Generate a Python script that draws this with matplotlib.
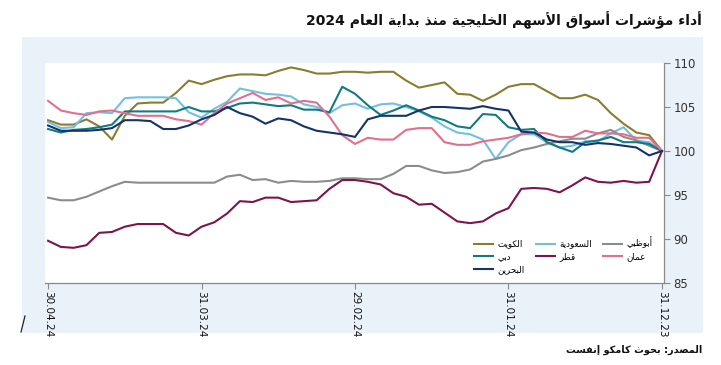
import re
import matplotlib
matplotlib.use("Agg")
import matplotlib.pyplot as plt
from matplotlib.patches import Rectangle
from matplotlib.lines import Line2D

plt.rcParams['font.family'] = ['DejaVu Sans']

# --- simple Arabic shaping (presentation forms) + visual RTL order ---
FORMS = {
    '\u0621': (0xFE80, 1), '\u0622': (0xFE81, 2), '\u0623': (0xFE83, 2),
    '\u0624': (0xFE85, 2), '\u0625': (0xFE87, 2), '\u0626': (0xFE89, 4),
    '\u0627': (0xFE8D, 2), '\u0628': (0xFE8F, 4), '\u0629': (0xFE93, 2),
    '\u062A': (0xFE95, 4), '\u062B': (0xFE99, 4), '\u062C': (0xFE9D, 4),
    '\u062D': (0xFEA1, 4), '\u062E': (0xFEA5, 4), '\u062F': (0xFEA9, 2),
    '\u0630': (0xFEAB, 2), '\u0631': (0xFEAD, 2), '\u0632': (0xFEAF, 2),
    '\u0633': (0xFEB1, 4), '\u0634': (0xFEB5, 4), '\u0635': (0xFEB9, 4),
    '\u0636': (0xFEBD, 4), '\u0637': (0xFEC1, 4), '\u0638': (0xFEC5, 4),
    '\u0639': (0xFEC9, 4), '\u063A': (0xFECD, 4), '\u0641': (0xFED1, 4),
    '\u0642': (0xFED5, 4), '\u0643': (0xFED9, 4), '\u0644': (0xFEDD, 4),
    '\u0645': (0xFEE1, 4), '\u0646': (0xFEE5, 4), '\u0647': (0xFEE9, 4),
    '\u0648': (0xFEED, 2), '\u0649': (0xFEEF, 2), '\u064A': (0xFEF1, 4),
}
LAM_ALEF = {'\u0627': 0xFEFB, '\u0623': 0xFEF7, '\u0625': 0xFEF9, '\u0622': 0xFEF5}


def ar(text):
    out = []
    k, n = 0, len(text)
    while k < n:
        c = text[k]
        if c not in FORMS:
            out.append(c)
            k += 1
            continue
        prev = text[k - 1] if k > 0 else ''
        prev_join = prev in FORMS and FORMS[prev][1] == 4
        if c == '\u0644' and k + 1 < n and text[k + 1] in LAM_ALEF:
            out.append(chr(LAM_ALEF[text[k + 1]] + (1 if prev_join else 0)))
            k += 2
            continue
        nxt = text[k + 1] if k + 1 < n else ''
        next_join = nxt in FORMS and FORMS[nxt][1] > 1
        base, nf = FORMS[c]
        if nf == 4:
            f = 3 if (prev_join and next_join) else 1 if prev_join else 2 if next_join else 0
        elif nf == 2:
            f = 1 if prev_join else 0
        else:
            f = 0
        out.append(chr(base + f))
        k += 1
    s = ''.join(out)[::-1]
    return re.sub(r'[0-9.]+', lambda m: m.group(0)[::-1], s)


# --- data: index 0 = 31.12.23 ... 48 = 30.04.24 ---
obs = list(range(49))
tick_pos = [0, 12, 24, 36, 48]
tick_labels = ['31.12.23', '31.01.24', '29.02.24', '31.03.24', '30.04.24']

kuwait = [100.0, 101.8, 102.1, 103.1, 104.3, 105.8, 106.4, 106.0, 106.0, 106.8,
          107.6, 107.6, 107.3, 106.4, 105.7, 106.4, 106.5, 107.8, 107.5, 107.2,
          108.0, 109.0, 109.0, 108.9, 109.0, 109.0, 108.8, 108.8, 109.2, 109.5,
          109.1, 108.6, 108.7, 108.7, 108.5, 108.1, 107.6, 108.0, 106.6, 105.5,
          105.5, 105.4, 104.0, 101.3, 102.8, 103.6, 103.0, 103.0, 103.5]
saudi = [100.0, 101.0, 101.2, 102.7, 102.0, 101.1, 101.1, 100.6, 100.4, 101.0,
         101.9, 101.9, 101.0, 99.1, 101.3, 101.9, 102.1, 102.8, 103.8, 104.5,
         105.0, 105.4, 105.3, 104.8, 105.4, 105.2, 104.3, 105.0, 105.3, 106.2,
         106.4, 106.5, 106.8, 107.1, 105.6, 104.8, 103.8, 104.4, 106.0, 106.1,
         106.1, 106.1, 106.0, 104.3, 104.4, 104.3, 102.7, 102.6, 103.3]
abudhabi = [100.0, 100.6, 101.2, 101.6, 102.4, 102.0, 101.4, 101.4, 101.1, 100.8,
            100.4, 100.1, 99.5, 99.1, 98.8, 97.9, 97.6, 97.5, 97.8, 98.3,
            98.3, 97.4, 96.8, 96.8, 96.9, 96.9, 96.6, 96.5, 96.5, 96.6,
            96.4, 96.8, 96.7, 97.3, 97.1, 96.4, 96.4, 96.4, 96.4, 96.4,
            96.4, 96.4, 96.5, 96.0, 95.4, 94.8, 94.4, 94.4, 94.7]
dubai = [100.0, 100.8, 101.0, 101.0, 101.6, 101.2, 101.0, 99.9, 100.4, 101.0,
         102.5, 102.4, 102.7, 104.1, 104.2, 102.6, 102.8, 103.5, 103.9, 104.6,
         105.2, 104.6, 104.1, 105.2, 106.5, 107.3, 104.4, 104.7, 104.7, 105.2,
         105.1, 105.3, 105.5, 105.4, 104.9, 104.5, 104.5, 105.0, 104.5, 104.5,
         104.5, 104.5, 104.5, 103.0, 102.7, 102.5, 102.4, 102.1, 102.5]
qatar = [100.0, 96.5, 96.4, 96.6, 96.4, 96.5, 97.0, 96.1, 95.3, 95.7,
         95.8, 95.7, 93.5, 92.9, 92.0, 91.8, 92.0, 93.0, 94.0, 93.9,
         94.8, 95.2, 96.2, 96.5, 96.7, 96.7, 95.7, 94.4, 94.3, 94.2,
         94.7, 94.7, 94.2, 94.3, 92.9, 91.9, 91.4, 90.4, 90.7, 91.7,
         91.7, 91.7, 91.4, 90.8, 90.7, 89.3, 89.0, 89.1, 89.8]
oman = [100.0, 101.5, 101.5, 101.9, 102.0, 102.0, 102.3, 101.6, 101.6, 102.0,
        102.1, 101.9, 101.5, 101.3, 101.1, 100.7, 100.7, 101.0, 102.6, 102.6,
        102.4, 101.3, 101.3, 101.5, 100.8, 101.8, 103.9, 105.5, 105.7, 105.4,
        106.1, 105.8, 106.6, 106.0, 105.4, 104.3, 103.0, 103.4, 103.6, 104.0,
        104.0, 104.0, 104.3, 104.6, 104.5, 104.1, 104.3, 104.6, 105.7]
bahrain = [100.0, 99.5, 100.4, 100.6, 100.8, 100.9, 100.7, 101.0, 101.0, 101.3,
           102.1, 102.2, 104.6, 104.8, 105.1, 104.8, 104.9, 105.0, 105.0, 104.6,
           104.0, 104.0, 104.0, 103.6, 101.6, 101.9, 102.1, 102.3, 102.8, 103.5,
           103.7, 103.1, 103.9, 104.3, 105.0, 104.1, 103.6, 102.9, 102.5, 102.5,
           103.4, 103.5, 103.5, 102.6, 102.4, 102.3, 102.3, 102.3, 102.9]

names = ['الكويت', 'السعودية', 'أبوظبي', 'دبي', 'قطر', 'عمان', 'البحرين']
series = [kuwait, saudi, abudhabi, dubai, qatar, oman, bahrain]
colors = ['#8a7d2f', '#72c0e0', '#8c8c8c', '#127b80', '#7e1549', '#e26f8e', '#12336b']

title = 'أداء مؤشرات أسواق الأسهم الخليجية منذ بداية العام 2024'
source = 'المصدر: بحوث كامكو إنفست'

fig = plt.figure(figsize=(7.21, 3.65), dpi=100)
W, H = 721, 365
fig.patches.append(Rectangle((22 / W, 1 - 333 / H), (703 - 22) / W, (333 - 37) / H,
                             transform=fig.transFigure, facecolor='#e9f1f9',
                             edgecolor='none', zorder=-5))
fig.add_artist(Line2D([21 / W, 25 / W], [1 - 332 / H, 1 - 316 / H], color='#222222', lw=0.9))

ax = fig.add_axes([45 / W, 1 - 283 / H, (664 - 45) / W, (283 - 63) / H])
ax.set_zorder(2)
ax.set_facecolor('white')

lines = {}
for nm, vals, col in zip(names, series, colors):
    ln, = ax.plot(obs, vals, color=col, lw=1.5, label=ar(nm), solid_joinstyle='round')
    lines[nm] = ln

ax.set_xlim(48.24, -0.16)
ax.set_ylim(85, 110)
ax.set_yticks([85, 90, 95, 100, 105, 110])
ax.set_xticks(tick_pos)
ax.set_xticklabels(tick_labels, rotation=-90, fontsize=7.5, color='#111111')
ax.yaxis.tick_right()
ax.tick_params(axis='y', direction='out', length=4, width=0.8, color='#8a8a8a',
               labelsize=8.5, labelcolor='#333333', pad=3)
ax.tick_params(axis='x', direction='out', length=4, width=0.8, color='#8a8a8a', pad=2)
for s in ['top', 'left']:
    ax.spines[s].set_visible(False)
for s in ['right', 'bottom']:
    ax.spines[s].set_color('#8a8a8a')
    ax.spines[s].set_linewidth(0.9)

order = ['الكويت', 'دبي', 'البحرين', 'السعودية', 'قطر', 'أبوظبي', 'عمان']
ax.legend([lines[k] for k in order], [ar(k) for k in order], ncol=3,
          loc='upper left', bbox_to_anchor=(0.693, 0.21), frameon=False,
          fontsize=6.3, handlelength=2.2, handletextpad=0.45, columnspacing=1.3,
          labelspacing=0.45, borderpad=0, borderaxespad=0)

fig.text(702 / W, 1 - 20 / H, ar(title), ha='right', va='center',
         fontsize=10, fontweight='bold', color='#111111')
# DejaVu has no oblique Arabic, so the source line is drawn upright
fig.text(702 / W, 1 - 350 / H, ar(source), ha='right', va='center',
         fontsize=7, fontweight='bold', color='#111111')

fig.savefig('out.png', dpi=100)
